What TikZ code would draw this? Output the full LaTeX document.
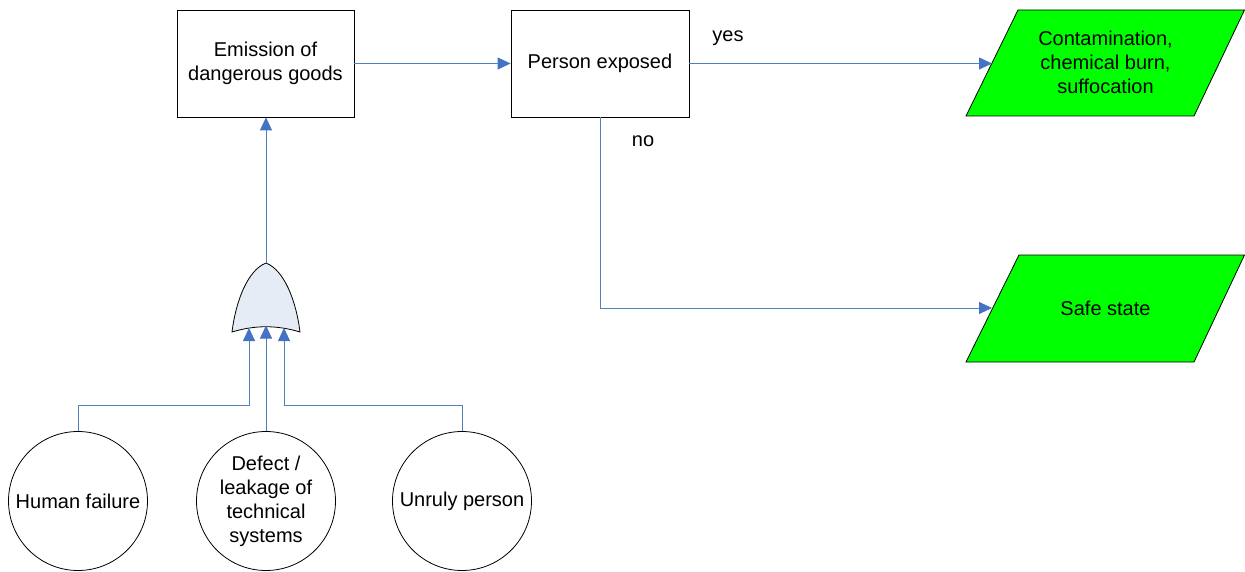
\documentclass[tikz,border=0pt]{standalone}
\usepackage{fontspec}
\setmainfont{Liberation Sans}
\usetikzlibrary{arrows.meta}
\definecolor{linkblue}{RGB}{79,129,189}
\definecolor{headblue}{RGB}{68,114,196}
\definecolor{gatefill}{RGB}{230,236,246}
\definecolor{outgreen}{RGB}{0,255,0}
\begin{document}
\begin{tikzpicture}[x=1pt,y=-1pt,
  txt/.style={font=\fontsize{20}{24}\selectfont},
  box/.style={txt,draw=black,line width=0.8pt,fill=white,minimum width=177pt,minimum height=107pt,inner sep=0pt,align=center},
  event/.style={txt,circle,draw=black,line width=0.8pt,minimum size=139pt,inner sep=0pt,align=center},
  lbl/.style={txt,inner sep=0pt,align=center},
  outcome/.style={draw=black,line width=0.8pt,fill=outgreen},
  gate/.style={draw=black,line width=0.8pt,fill=gatefill},
  link/.style={draw=linkblue,line width=0.8pt,-{Triangle[length=13pt,width=12pt,color=headblue]}},
]
\useasboundingbox (0,0) rectangle (1245,572);

% boxes
\node[box] (emis) at (265.5,63.5) {Emission of\\dangerous goods};
\node[box,minimum width=178pt] (pe) at (600,63.5) {Person exposed};

% outcomes
\path[outcome] (966,116) -- (1018,10) -- (1244.5,10) -- (1194,116) -- cycle;
\node[lbl] (cont) at (1105.5,62) {Contamination,\\chemical burn,\\suffocation};
\coordinate (contin) at (992,63.5);
\path[outcome] (966,362) -- (1019,255) -- (1244.5,255) -- (1194,362) -- cycle;
\node[lbl] (safe) at (1105.5,308) {Safe state};
\coordinate (safein) at (992,308);

% basic events
\node[event] (hf) at (78,501) {Human failure};
\node[event] (dl) at (266,501) {Defect /\\leakage of\\technical\\systems};
\node[event] (up) at (462,501) {Unruly person};

% OR gate
\coordinate (gtop) at (266,263);
\coordinate (gin1) at (249,328);
\coordinate (gin2) at (266,325.5);
\coordinate (gin3) at (284,328);
\coordinate (bus) at (0,405);
\path[gate] (gtop) .. controls (248,270) and (236,300) .. (232,332)
  .. controls (255,325) and (277,325) .. (300,332)
  .. controls (296,300) and (284,270) .. (gtop) -- cycle;

% connectors
\draw[link] (emis.east) -- (emis.east -| pe.west);
\draw[link] (pe.east) -- (contin);
\draw[link] (pe.south) |- (safein);
\draw[link] (gtop) -- (gtop |- emis.south);
\draw[link] (hf.north) |- (gin1 |- bus) -- (gin1);
\draw[link] (dl.north) -- (gin2);
\draw[link] (up.north) |- (gin3 |- bus) -- (gin3);

% labels
\node[lbl] (yes) at (728,38) {yes};
\node[lbl] (no) at (643,141) {no};
\end{tikzpicture}
\end{document}
